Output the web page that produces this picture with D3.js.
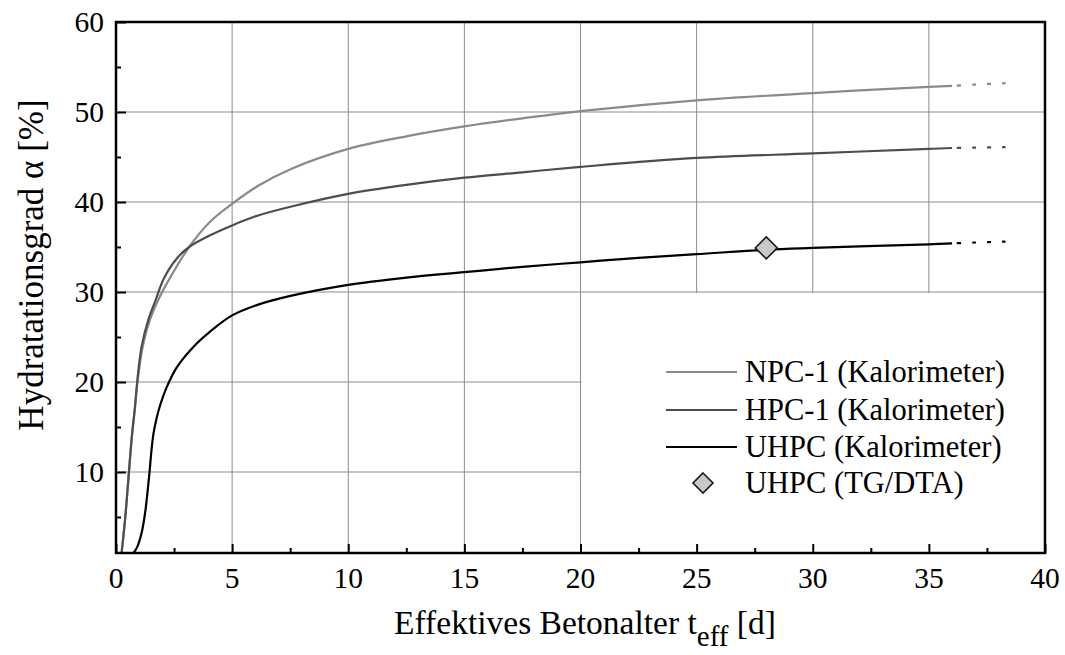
<!DOCTYPE html>
<html><head><meta charset="utf-8">
<script src="https://cdn.jsdelivr.net/npm/d3@7"></script>
<style>body{margin:0;background:#fff}svg{display:block}</style>
</head><body>
<svg id="c" width="1065" height="655" font-family="'Liberation Serif', 'Times New Roman', Times, serif"></svg>
<script>
// ---- data ----
const npcT = [0.24,0.39,0.53,0.67,0.82,0.92,1.15,1.46,1.87,2.4,3.15,4.05,5,6.12,7.56,10,12.5,15,17.5,20,25,30,35,36];
const npcA = [1,4.7,9.1,13.6,17.3,19.9,23.9,26.9,29.4,31.9,35.0,37.8,39.8,41.8,43.7,45.9,47.3,48.4,49.3,50.1,51.3,52.1,52.8,52.9];
const hpcT = [0.24,0.39,0.53,0.67,0.82,0.92,1.10,1.39,1.75,2.04,2.61,3.15,4.05,5,6.12,7.56,10,12.5,15,17.5,20,25,30,35,36];
const hpcA = [1,4.7,9.1,13.6,17.3,20.2,23.9,26.9,29.4,31.4,33.7,35.0,36.3,37.4,38.5,39.5,40.9,41.9,42.7,43.3,43.9,44.9,45.4,45.9,46.0];
const uhpcT = [0.75,0.9,1.10,1.25,1.35,1.44,1.52,1.61,1.74,1.91,2.18,2.61,3.33,4.05,5,6.12,7.56,10,12.5,15,17.5,20,22.5,25,28,30,35,36];
const uhpcA = [1,1.6,3.2,5.4,7.6,9.9,12.2,14.2,15.9,17.5,19.4,21.6,23.9,25.6,27.4,28.6,29.6,30.8,31.6,32.2,32.8,33.3,33.8,34.2,34.7,34.9,35.3,35.4];
const extT = [36,37,38.3];
const npcExt = [52.9,53.05,53.2];
const hpcExt = [46.0,46.05,46.1];
const uhpcExt = [35.4,35.5,35.6];
const tgT = [28];
const tgA = [34.9];
const seriesNames = ["NPC-1 (Kalorimeter)","HPC-1 (Kalorimeter)","UHPC (Kalorimeter)","UHPC (TG/DTA)"];
const xTicks = [0,5,10,15,20,25,30,35,40];
const yTicks = [10,20,30,40,50,60];

// ---- drawing ----
const svg = d3.select("#c");
const x = d3.scaleLinear().domain([0,40]).range([116,1045]);
const y = d3.scaleLinear().domain([1,60]).range([553,22]);
const colors = ["#8a8a8a","#4d4d4d","#000000"];

// grid
const g = svg.append("g");
[5,10,15,20,25,30,35].forEach(v=>g.append("line").attr("x1",x(v)).attr("x2",x(v)).attr("y1",y(1)).attr("y2",y(60)).attr("stroke","#8c8c8c").attr("stroke-width",1));
[10,20,30,40,50].forEach(v=>g.append("line").attr("x1",x(0)).attr("x2",x(40)).attr("y1",y(v)).attr("y2",y(v)).attr("stroke","#8c8c8c").attr("stroke-width",1));
// legend background
svg.append("rect").attr("x",x(20)+1).attr("y",y(30)+1).attr("width",x(40)-x(20)-1).attr("height",y(1)-y(30)-1).attr("fill","#fff");

const line = d3.line().x(d=>x(d[0])).y(d=>y(d[1])).curve(d3.curveCatmullRom.alpha(0.5));
const sets = [[npcT,npcA,npcExt],[hpcT,hpcA,hpcExt],[uhpcT,uhpcA,uhpcExt]];
sets.forEach((s,i)=>{
  svg.append("path").attr("d",line(s[0].map((t,j)=>[t,s[1][j]]))).attr("fill","none").attr("stroke",colors[i]).attr("stroke-width",2.2);
  svg.append("path").attr("d",line(extT.map((t,j)=>[t,s[2][j]]))).attr("fill","none").attr("stroke",colors[i]).attr("stroke-width",2.2).attr("stroke-dasharray","4 11").attr("stroke-dashoffset",10);
});
const diamond = (cx,cy,r)=>`M${cx},${cy-r}L${cx+r},${cy}L${cx},${cy+r}L${cx-r},${cy}Z`;
tgT.forEach((t,j)=>svg.append("path").attr("d",diamond(x(t),y(tgA[j]),11)).attr("fill","#c8c8c8").attr("stroke","#1a1a1a").attr("stroke-width",1.6));

// axes
const xa = d3.axisBottom(x).tickValues(d3.range(0,40.01,2.5)).tickSizeInner(-5).tickSizeOuter(0).tickFormat("");
const xg = svg.append("g").attr("transform",`translate(0,${y(1)})`).call(xa);
xg.selectAll(".tick line").attr("y2",d=>d%5===0?-9:-5).attr("stroke","#000").attr("stroke-width",2);
xg.select(".domain").remove();
const ya = d3.axisLeft(y).tickValues(d3.range(5,60.01,5)).tickSizeInner(-5).tickSizeOuter(0).tickFormat("");
const yg = svg.append("g").attr("transform",`translate(${x(0)},0)`).call(ya);
yg.selectAll(".tick line").attr("x2",d=>d%10===0?10:5).attr("stroke","#000").attr("stroke-width",2);
yg.select(".domain").remove();
svg.append("rect").attr("x",x(0)).attr("y",y(60)).attr("width",x(40)-x(0)).attr("height",y(1)-y(60)).attr("fill","none").attr("stroke","#000").attr("stroke-width",2.5);

const F = "'Liberation Serif', 'Times New Roman', Times, serif";
xTicks.forEach(v=>svg.append("text").attr("font-family",F).attr("x",x(v)).attr("y",588).attr("text-anchor","middle").attr("font-size",29.5).text(v));
yTicks.forEach(v=>svg.append("text").attr("font-family",F).attr("x",104).attr("y",y(v)+10).attr("text-anchor","end").attr("font-size",29.5).text(v));

// axis titles
const xt = svg.append("text").attr("font-family",F).attr("x",585).attr("y",634).attr("text-anchor","middle").attr("font-size",33.5);
xt.append("tspan").text("Effektives Betonalter t");
xt.append("tspan").attr("font-size",29).attr("dy",12).text("eff");
xt.append("tspan").attr("dy",-12).text(" [d]");
svg.append("text").attr("font-family",F).attr("transform","translate(43,265) rotate(-90)").attr("text-anchor","middle").attr("font-size",35).text("Hydratationsgrad α [%]");

// legend
const ly = [372,410,447,483];
seriesNames.forEach((n,i)=>{
  if(i<3) svg.append("line").attr("x1",666).attr("x2",737).attr("y1",ly[i]).attr("y2",ly[i]).attr("stroke",colors[i]).attr("stroke-width",2.2);
  else svg.append("path").attr("d",diamond(703,ly[i],10)).attr("fill","#c8c8c8").attr("stroke","#1a1a1a").attr("stroke-width",1.6);
  svg.append("text").attr("font-family",F).attr("x",745).attr("y",ly[i]+10).attr("font-size",30.5).text(n);
});
</script>
</body></html>
